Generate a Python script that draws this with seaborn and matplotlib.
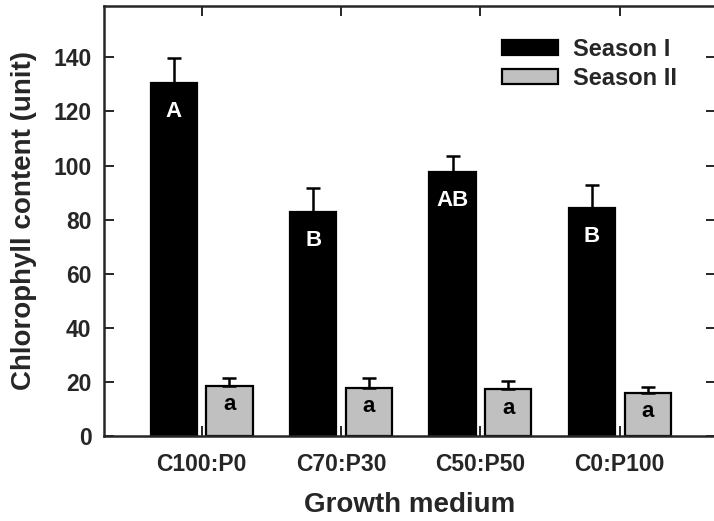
import pandas as pd
import matplotlib
matplotlib.use("Agg")
import matplotlib.pyplot as plt
import seaborn as sns

# data
media = ['C100:P0', 'C70:P30', 'C50:P50', 'C0:P100']
season1 = [130.4, 82.7, 97.7, 84.2]
season1_err = [9.2, 8.9, 5.9, 8.6]
season2 = [18.5, 17.9, 17.3, 16.0]
season2_err = [3.1, 3.5, 3.1, 2.0]
letters1 = ['A', 'B', 'AB', 'B']
letters2 = ['a', 'a', 'a', 'a']
yticks = [0, 20, 40, 60, 80, 100, 120, 140]

df = pd.DataFrame({
    'medium': media * 2,
    'value': season1 + season2,
    'err': season1_err + season2_err,
    'season': ['Season I'] * 4 + ['Season II'] * 4,
})

sns.set_style('ticks')
plt.rcParams['font.family'] = ['Liberation Sans', 'DejaVu Sans']
plt.rcParams['font.weight'] = 'bold'

fig = plt.figure(figsize=(7.14, 5.21), dpi=100)
ax = fig.add_axes([104 / 714, 85 / 521, 612 / 714, 430 / 521])

sns.barplot(data=df, x='medium', y='value', hue='season',
            palette=['black', '#c0c0c0'], errorbar=None, gap=0.17,
            edgecolor='black', linewidth=1.6, ax=ax)

# one sided error bars + letters, placed on the bars seaborn drew
bars = ax.patches[:8]
for i, b in enumerate(bars):
    xc = b.get_x() + b.get_width() / 2
    h = b.get_height()
    e = df['err'][i]
    ax.errorbar(xc, h, yerr=[[0], [e]], fmt='none', ecolor='black',
                elinewidth=1.8, capsize=5, capthick=1.8, zorder=3)
    if i < 4:
        ax.text(xc, h - 10.5, letters1[i], color='white', ha='center', va='center',
                fontsize=16, fontweight='bold')
    else:
        ax.text(xc, h - 7, letters2[i - 4], color='black', ha='center', va='center',
                fontsize=16, fontweight='bold')

ax.set_xlim(-0.70, 3.69)
ax.set_ylim(0, 159)
ax.set_yticks(yticks)

ax.tick_params(direction='in', length=7, width=1.4, top=True, right=True,
               labelsize=16.5, pad=9)
ax.tick_params(axis='x', pad=12)
for s in ax.spines.values():
    s.set_linewidth(1.8)
    s.set_visible(True)

ax.set_xlabel('Growth medium', fontsize=20, fontweight='bold', labelpad=12)
ax.set_ylabel('Chlorophyll content (unit)', fontsize=20, fontweight='bold', labelpad=12)

leg = ax.legend(loc='upper left', bbox_to_anchor=(0.65, 0.925), frameon=False,
                fontsize=17, handlelength=2.4, handleheight=0.6,
                handletextpad=0.6, labelspacing=0.25, borderpad=0,
                borderaxespad=0)
for t in leg.get_texts():
    t.set_fontweight('bold')

fig.savefig('out.png', dpi=100)
